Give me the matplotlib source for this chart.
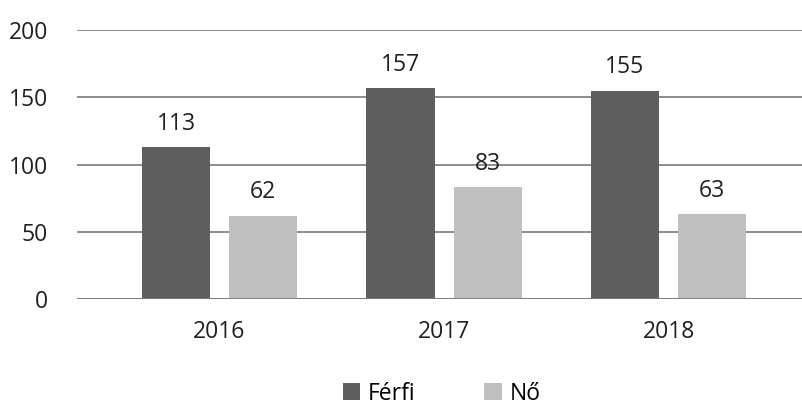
import matplotlib.pyplot as plt
import numpy as np

years = ["2016", "2017", "2018"]
ferfi = [113, 157, 155]
no = [62, 83, 63]
yticks = [0, 50, 100, 150, 200]

plt.rcParams["font.family"] = ["Open Sans", "DejaVu Sans"]

fig = plt.figure(figsize=(8.03, 4.08), dpi=100)
ax = fig.add_axes([77 / 803, 1 - 299 / 408, 726 / 803, 269 / 408])

x = np.arange(len(years))
w = 0.303
off = 0.194
b1 = ax.bar(x - off, ferfi, w, color="#5f5f5f", label="Férfi", zorder=3)
b2 = ax.bar(x + off, no, w, color="#bfbfbf", label="Nő", zorder=3)

for bars, vals in ((b1, ferfi), (b2, no)):
    for r, v in zip(bars, vals):
        ax.annotate(str(v), (r.get_x() + r.get_width() / 2, v), xytext=(0, 8),
                    textcoords="offset points", ha="center", va="bottom", fontsize=16.5, color="#231f20")

ax.set_xlim(-0.635, 2.599)
ax.set_ylim(0, 200)
ax.set_yticks(yticks)
ax.set_xticks(x)
ax.set_xticklabels(years)
ax.grid(axis="y", color="#7a7a7a", linewidth=1.2, zorder=0)
for s in ax.spines.values():
    s.set_visible(False)
ax.tick_params(axis="both", length=0, labelsize=16.5, colors="#231f20")
ax.tick_params(axis="y", pad=21)
ax.tick_params(axis="x", pad=15)
ax.axhline(0, color="#7a7a7a", linewidth=1.2, zorder=4)

fig.legend(handles=[b1, b2], loc="lower center", bbox_to_anchor=(0.55, 0.0), ncol=2, frameon=False,
           fontsize=16.5, handlelength=0.75, handleheight=0.75, handletextpad=0.35, columnspacing=3.0,
           borderaxespad=0.0, borderpad=0.1)

fig.savefig("out.png", dpi=100)
